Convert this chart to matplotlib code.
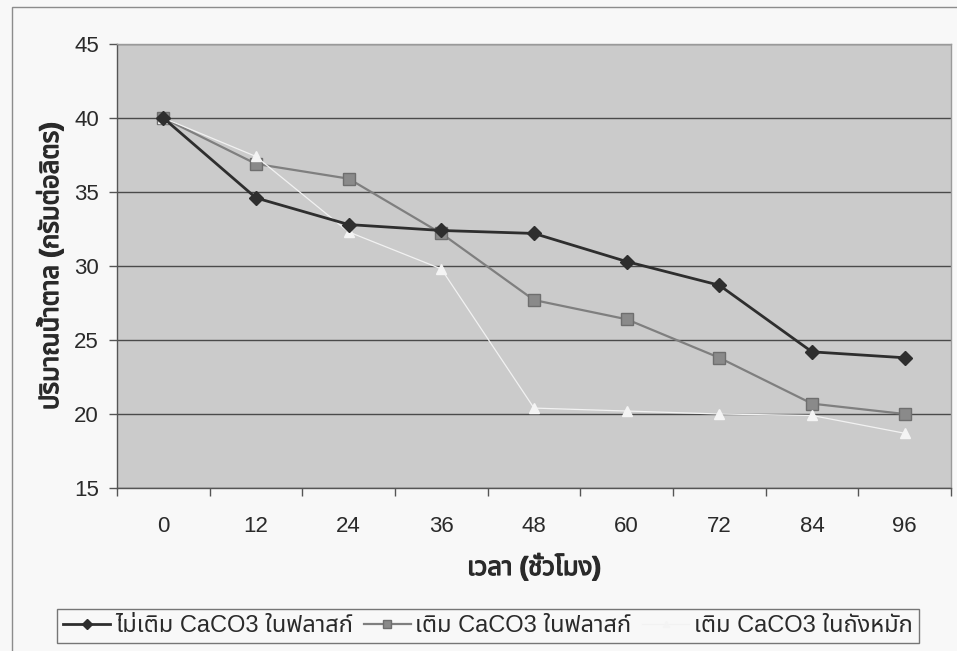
import matplotlib
matplotlib.use("Agg")
import matplotlib.pyplot as plt
from matplotlib import font_manager
from matplotlib.ft2font import FT2Font
from matplotlib.patches import Rectangle
import matplotlib.patheffects as pe

# Data: sugar concentration (g/L) over fermentation time (hours)
hours = ["0", "12", "24", "36", "48", "60", "72", "84", "96"]
no_caco3_flask = [40, 34.6, 32.8, 32.4, 32.2, 30.3, 28.7, 24.2, 23.8]
caco3_flask = [40, 36.9, 35.9, 32.2, 27.7, 26.4, 23.8, 20.7, 20.0]
caco3_tank = [40, 37.4, 32.3, 29.8, 20.4, 20.2, 20.0, 19.9, 18.7]

series_labels = [
    "ไม่เติม CaCO3 ในฟลาสก์",
    "เติม CaCO3 ในฟลาสก์",
    "เติม CaCO3 ในถังหมัก",
]
y_ticks = [15, 20, 25, 30, 35, 40, 45]
x_title = "เวลา (ชั่วโมง)"
y_title = "ปริมาณน้ำตาล (กรัมต่อลิตร)"


def find_thai_family():
    preferred = ["Noto Sans Thai", "Noto Sans Thai UI", "Loma", "Garuda",
                 "Tlwg Typo", "Umpush", "Waree", "Sawasdee", "Kinnari",
                 "Norasi", "Laksaman", "Noto Serif Thai"]
    found = []
    for f in font_manager.fontManager.ttflist:
        try:
            if 0x0E21 in FT2Font(f.fname).get_charmap():
                found.append(f.name)
        except Exception:
            pass
    for p in preferred:
        if p in found:
            return p
    return found[0] if found else None


thai = find_thai_family()
families = ["Liberation Sans"] + ([thai] if thai else []) + ["DejaVu Sans"]
plt.rcParams["font.family"] = families

TEXT = "#2a2a2a"
W, H, DPI = 957, 651, 100
fig = plt.figure(figsize=(W / DPI, H / DPI), dpi=DPI)
fig.patch.set_facecolor("#f8f8f8")

# chart area border
fig.patches.append(Rectangle((12 / W, -0.05), 1.0, 1 - 7 / H + 0.05,
                             transform=fig.transFigure, fill=False,
                             edgecolor="#8c8c8c", linewidth=1.0, zorder=0))

left, right, top, bottom = 117, 951, 44, 488
ax = fig.add_axes([left / W, 1 - bottom / H, (right - left) / W, (bottom - top) / H])
ax.set_facecolor("#cbcbcb")

x = list(range(len(hours)))
ax.plot(x, no_caco3_flask, color="#2e2e2e", lw=2.0, marker="D", ms=7,
        mfc="#2e2e2e", mec="#2e2e2e", label=series_labels[0], zorder=4)
ax.plot(x, caco3_flask, color="#7f7f7f", lw=1.6, marker="s", ms=8,
        mfc="#8a8a8a", mec="#6e6e6e", label=series_labels[1], zorder=3)
ax.plot(x, caco3_tank, color="#f2f2f2", lw=0.9, marker="^", ms=7,
        mfc="#f4f4f4", mec="#f4f4f4", label=series_labels[2], zorder=3.5)

ax.set_xlim(-0.5, len(hours) - 0.5)
ax.set_ylim(15, 45)
ax.set_yticks(y_ticks)
ax.set_yticklabels([str(v) for v in y_ticks])
ax.yaxis.grid(True, color="#4a4a4a", lw=1.0)
ax.set_axisbelow(True)

ax.set_xticks(x)
ax.set_xticklabels(hours)
ax.set_xticks([i - 0.5 for i in range(len(hours) + 1)], minor=True)
ax.tick_params(axis="x", which="major", length=0, pad=20, labelsize=16,
               colors=TEXT)
ax.tick_params(axis="x", which="minor", length=6, width=1, color="#555555",
               direction="out")
ax.tick_params(axis="y", length=6, width=1, color="#555555", pad=7,
               labelsize=16, labelcolor=TEXT)

for side in ("top", "right"):
    ax.spines[side].set_color("#9a9a9a")
    ax.spines[side].set_linewidth(1.0)
for side in ("left", "bottom"):
    ax.spines[side].set_color("#555555")
    ax.spines[side].set_linewidth(1.0)

bold = [pe.withStroke(linewidth=0.9, foreground=TEXT)]
fig.text(534 / W, 1 - 567 / H, x_title, ha="center", va="center",
         fontsize=18.5, fontweight="bold", color=TEXT, path_effects=bold)
fig.text(50 / W, 1 - 266 / H, y_title, ha="center", va="center",
         rotation=90, fontsize=18.5, fontweight="bold", color=TEXT,
         path_effects=bold)

handles, labels = ax.get_legend_handles_labels()
leg = fig.legend(handles, labels, loc="center",
                 bbox_to_anchor=(488 / W, 1 - 626 / H), ncol=3,
                 frameon=True, fancybox=False, fontsize=17,
                 handlelength=2.0, handletextpad=0.2, columnspacing=0.45,
                 markerscale=0.7, borderpad=0.25, edgecolor="#555555",
                 facecolor="#f8f8f8")
leg.get_frame().set_linewidth(1.0)
for t in leg.get_texts():
    t.set_color(TEXT)

fig.savefig("out.png", dpi=DPI, facecolor=fig.get_facecolor())
